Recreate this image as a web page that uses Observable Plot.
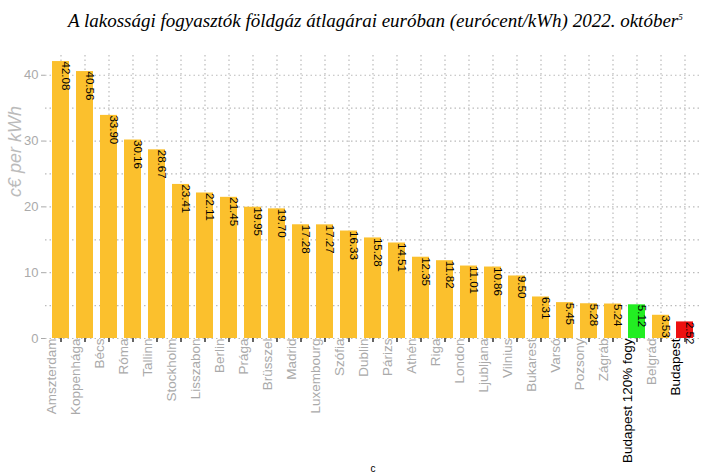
<!DOCTYPE html><html><head><meta charset="utf-8">
<script src="https://cdn.jsdelivr.net/npm/d3@7"></script>
<script src="https://cdn.jsdelivr.net/npm/@observablehq/plot@0.6"></script>
<style>body{margin:0;background:#fff}#t{font-family:"Liberation Serif","DejaVu Serif",serif;font-style:italic;font-size:19px;height:36px;padding:10px 0 0 68px;box-sizing:border-box;white-space:nowrap}</style>
</head><body><div id="t">A lakossági fogyasztók földgáz átlagárai euróban (eurócent/kWh) 2022. október<sup style="font-size:9px">5</sup></div><div id="c"></div>
<script>
const cities=["Amszterdam","Koppenhága","Bécs","Róma","Tallinn","Stockholm","Lisszabon","Berlin","Prága","Brüsszel","Madrid","Luxembourg","Szófia","Dublin","Párizs","Athén","Riga","London","Ljubljana","Vilnius","Bukarest","Varsó","Pozsony","Zágráb","Budapest 120% fogy","Belgrád","Budapest"];
const values=[42.08,40.56,33.90,30.16,28.67,23.41,22.11,21.45,19.95,19.70,17.28,17.27,16.33,15.28,14.51,12.35,11.82,11.01,10.86,9.50,6.31,5.45,5.28,5.24,5.12,3.53,2.52];
const data=cities.map((c,i)=>({c,v:values[i]}));
const col=c=>c==="Budapest"?"#ee1111":c==="Budapest 120% fogy"?"#22ee22":"#fbc02d";
const yt=[0,10,20,30,40], ym=[5,15,25,35];
const chart=Plot.plot({width:720,height:438,marginTop:19,marginLeft:45,marginRight:20,marginBottom:136,
style:{fontFamily:"Liberation Sans, Arial, sans-serif"},
x:{domain:cities,padding:0.28,axis:null},
y:{domain:[0,43],axis:null},
marks:[
Plot.ruleY([...yt,...ym],{stroke:"#bbb",strokeDasharray:"1.5,3",strokeWidth:1.2}),
Plot.ruleX(cities,{x:d=>d,stroke:"#bbb",strokeDasharray:"1.5,3",strokeWidth:1.2}),
Plot.barY(data,{x:"c",y:"v",fill:d=>col(d.c)}),
Plot.text(data,{x:"c",y:"v",text:d=>d.v.toFixed(2),rotate:90,textAnchor:"start",dx:5,fontSize:11.5,fill:"#000"}),
Plot.axisX({tickFormat:()=>"",tickSize:4,stroke:"#333",strokeWidth:1.5}),
Plot.text(data,{x:"c",y:()=>0,text:"c",rotate:-90,textAnchor:"end",dx:-9,fontSize:13.5,fill:d=>d.c.startsWith("Budapest")?"#000":"#aaa"}),
Plot.axisY(yt,{tickSize:4,fontSize:13,color:"#aaa",label:null,tickPadding:3}),
Plot.text([0],{text:()=>"c€ per kWh",frameAnchor:"left",dx:-30,rotate:-90,fontSize:18,fontStyle:"italic",fill:"#bbb"})
]});
document.getElementById("c").append(chart);
</script></body></html>
